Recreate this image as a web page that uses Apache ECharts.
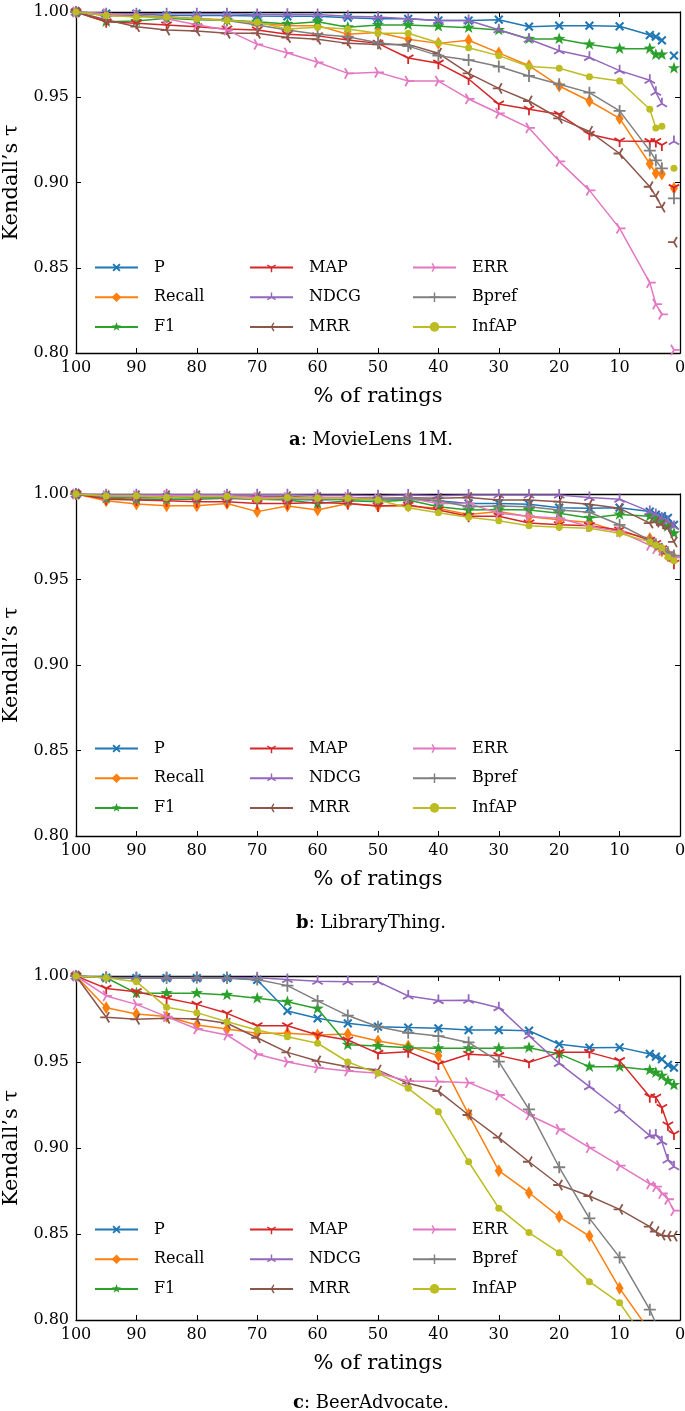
<!DOCTYPE html>
<html>
<head>
<meta charset="utf-8">
<script src="https://cdn.jsdelivr.net/npm/echarts@6/dist/echarts.min.js"></script>
<style>html,body{margin:0;padding:0;background:#fff;}#chart{width:685px;height:1411px;}</style>
</head>
<body>
<div id="chart"></div>
<script>
// ---------- data ----------
const xPct = [100,95,90,85,80,75,70,65,60,55,50,45,40,35,30,25,20,15,10,5,4,3,2,1];
const metricNames = ['P','Recall','F1','MAP','NDCG','MRR','ERR','Bpref','InfAP'];
const panelLetters = ['a','b','c'];
const panelNames = ['MovieLens 1M.','LibraryThing.','BeerAdvocate.'];
const yTickMin = 0.80, yTickMax = 1.00, yTickStep = 0.05;
const xTickMin = 0, xTickMax = 100, xTickStep = 10;

// (a) MovieLens 1M
const a_P      = [1.000,0.999,0.999,0.998,0.998,0.998,0.9977,0.9975,0.9975,0.9967,0.996,0.996,0.995,0.995,0.9955,0.9914,0.992,0.992,0.9916,0.9865,0.9855,0.9834,null,0.9744];
const a_Recall = [1.000,0.998,0.998,0.997,0.996,0.9955,0.9934,0.992,0.992,0.987,0.988,0.984,0.9816,0.9834,0.976,0.9685,0.9566,0.9478,0.9376,0.911,0.9054,0.905,null,0.8966];
const a_F1     = [1.000,0.9943,0.9947,0.9963,0.9955,0.9951,0.9943,0.993,0.9943,0.991,0.9924,0.9924,0.9916,0.9908,0.9894,0.9842,0.9842,0.981,0.9785,0.9785,0.975,0.975,null,0.967];
const a_MAP    = [1.000,0.9943,0.9934,0.9924,0.9914,0.990,0.9894,0.987,0.986,0.9836,0.9816,0.973,0.970,0.9607,0.946,0.943,0.940,0.9283,0.9243,0.924,0.924,0.922,null,0.897];
const a_NDCG   = [1.000,0.999,0.999,0.999,0.999,0.999,0.9985,0.9987,0.9985,0.9975,0.997,0.996,0.995,0.995,0.9896,0.984,0.9773,0.9734,0.9656,0.960,0.9529,0.9462,null,0.924];
const a_MRR    = [1.000,0.9955,0.9914,0.9894,0.9889,0.9875,0.9875,0.985,0.984,0.9816,0.981,0.981,0.9758,0.964,0.9552,0.9478,0.9376,0.930,0.917,0.8975,0.892,0.8855,null,0.865];
const a_ERR    = [1.000,0.999,0.998,0.996,0.9925,0.9894,0.981,0.976,0.9705,0.964,0.9646,0.9595,0.9595,0.949,0.9406,0.932,0.9124,0.8954,0.8731,0.8413,0.8287,0.8227,null,0.8018];
const a_Bpref  = [1.000,0.998,0.9976,0.997,0.996,0.995,0.9924,0.9894,0.987,0.9855,0.982,0.980,0.9744,0.9718,0.968,0.9625,0.9576,0.9527,0.942,0.9187,0.913,0.9083,null,0.8907];
const a_InfAP  = [1.000,0.998,0.997,0.997,0.996,0.995,0.994,0.990,0.991,0.990,0.9875,0.9875,0.982,0.979,0.9744,0.968,0.967,0.962,0.9595,0.943,0.932,0.933,null,0.9083];

// (b) LibraryThing
const b_P      = [1.000,0.9983,0.998,0.998,0.998,0.998,0.997,0.997,0.9965,0.997,0.9965,0.997,0.996,0.9945,0.9945,0.994,0.992,0.9916,0.992,0.9897,0.988,0.987,0.986,0.982];
const b_Recall = [1.000,0.9961,0.9942,0.9932,0.9932,0.9945,0.9897,0.993,0.9906,0.9945,0.993,0.993,0.9916,0.988,0.9897,0.9867,0.985,0.9834,0.978,0.974,0.970,0.9667,0.965,0.963];
const b_F1     = [1.000,0.9975,0.997,0.997,0.997,0.9975,0.997,0.9965,0.9945,0.996,0.9955,0.9965,0.9926,0.9906,0.991,0.9906,0.9887,0.986,0.988,0.987,0.9858,0.984,0.981,0.977];
const b_MAP    = [1.000,0.997,0.9965,0.996,0.9955,0.9955,0.9945,0.9945,0.995,0.9945,0.993,0.9935,0.9906,0.987,0.987,0.983,0.982,0.9815,0.979,0.973,0.971,0.968,0.964,0.9595];
const b_NDCG   = [1.000,0.9995,0.9995,0.9995,0.9995,0.9995,0.9995,0.9995,0.9993,0.9993,0.999,0.9994,0.999,0.9994,0.9994,0.9994,0.9994,0.998,0.997,0.9897,0.988,0.986,0.984,0.981];
const b_MRR    = [1.000,0.999,0.999,0.999,0.999,0.9988,0.9985,0.9985,0.998,0.998,0.9975,0.9978,0.9975,0.998,0.9965,0.9965,0.9955,0.994,0.9916,0.983,0.9835,0.982,0.980,0.972];
const b_ERR    = [1.000,0.999,0.999,0.999,0.999,0.999,0.998,0.998,0.998,0.998,0.997,0.9975,0.9945,0.9945,0.9887,0.987,0.9858,0.981,0.978,0.970,0.968,0.967,0.965,0.963];
const b_Bpref  = [1.000,0.9985,0.998,0.998,0.998,0.9975,0.997,0.997,0.997,0.997,0.997,0.9975,0.996,0.9926,0.993,0.9926,0.9906,0.9893,0.982,0.973,0.9706,0.968,0.966,0.964];
const b_InfAP  = [1.000,0.9988,0.999,0.998,0.9985,0.9985,0.997,0.998,0.9975,0.9975,0.9965,0.992,0.989,0.9864,0.9844,0.9815,0.9805,0.980,0.977,0.972,0.970,0.9686,0.963,0.961];

// (c) BeerAdvocate
const c_P      = [1.000,0.999,0.9988,0.9988,0.9988,0.9988,0.9977,0.9797,0.9754,0.9725,0.9705,0.970,0.9696,0.9686,0.9686,0.9682,0.9603,0.9583,0.9585,0.9547,0.9531,0.9516,0.9483,0.9467];
const c_Recall = [1.000,0.9816,0.9779,0.9764,0.9715,0.9692,0.9667,0.9667,0.9657,0.9663,0.9622,0.9593,0.9537,0.9196,0.8868,0.874,0.860,0.8488,0.8184,0.7935,0.788,0.783,0.778,0.773];
const c_F1     = [1.000,0.999,0.990,0.990,0.990,0.989,0.987,0.985,0.981,0.960,0.9593,0.9583,0.958,0.958,0.958,0.9583,0.9547,0.9473,0.9473,0.9453,0.9438,0.942,0.939,0.9366];
const c_MAP    = [1.000,0.9928,0.9909,0.987,0.9835,0.9783,0.9711,0.9711,0.9657,0.9628,0.955,0.956,0.9488,0.9545,0.9537,0.9498,0.9556,0.9556,0.9508,0.9298,0.9295,0.9236,0.9134,0.9081];
const c_NDCG   = [1.000,0.9992,0.9992,0.9992,0.9992,0.9992,0.999,0.998,0.997,0.9967,0.9967,0.9884,0.9857,0.9859,0.9816,0.9653,0.9492,0.9357,0.9221,0.9072,0.9076,0.9037,0.893,0.8891];
const c_MRR    = [1.000,0.976,0.9748,0.9754,0.975,0.9725,0.9641,0.9556,0.9506,0.9473,0.9453,0.9376,0.9331,0.9192,0.906,0.892,0.8785,0.8721,0.8643,0.8543,0.8514,0.8494,0.8488,0.8488];
const c_ERR    = [1.000,0.9884,0.9835,0.9764,0.9692,0.9657,0.9545,0.950,0.9467,0.9448,0.9434,0.939,0.9386,0.938,0.9308,0.9192,0.9109,0.9002,0.8897,0.8791,0.8775,0.8736,0.8702,0.8636];
const c_Bpref  = [1.000,0.9992,0.9988,0.9988,0.999,0.9988,0.998,0.9944,0.9855,0.977,0.9705,0.967,0.9651,0.9614,0.9502,0.9225,0.8888,0.8591,0.8364,0.806,0.798,0.791,0.784,0.777];
const c_InfAP  = [1.000,0.999,0.9967,0.9818,0.9787,0.9734,0.9686,0.9647,0.9609,0.950,0.9434,0.9347,0.9211,0.892,0.865,0.8508,0.8391,0.8223,0.810,0.785,0.780,0.774,0.768,0.762];

const panelData = [
  [a_P,a_Recall,a_F1,a_MAP,a_NDCG,a_MRR,a_ERR,a_Bpref,a_InfAP],
  [b_P,b_Recall,b_F1,b_MAP,b_NDCG,b_MRR,b_ERR,b_Bpref,b_InfAP],
  [c_P,c_Recall,c_F1,c_MAP,c_NDCG,c_MRR,c_ERR,c_Bpref,c_InfAP]
];

// ---------- styling ----------
const COLORS = ['#1f77b4','#ff7f0e','#2ca02c','#d62728','#9467bd','#8c564b','#e377c2','#7f7f7f','#bcbd22'];
const FONT = 'DejaVu Serif';
const BOX = 'M0,0L0.01,0L0,0.01Z M20,20L19.99,20L20,19.99Z ';
function armsPath(angles, w) {
  let d = BOX;
  for (const a of angles) {
    const r = a * Math.PI / 180, dx = Math.cos(r), dy = -Math.sin(r), px = -dy, py = dx;
    const pts = [[10+px*w,10+py*w],[10+dx*10+px*w,10+dy*10+py*w],[10+dx*10-px*w,10+dy*10-py*w],[10-px*w,10-py*w]];
    d += 'M' + pts.map(p => p[0].toFixed(2)+','+p[1].toFixed(2)).join('L') + 'Z ';
  }
  return 'path://' + d;
}
function starPath() {
  let pts = [];
  for (let k = 0; k < 10; k++) {
    const ang = (90 + 36*k) * Math.PI/180, rad = (k % 2) ? 4.0 : 10;
    pts.push((10+rad*Math.cos(ang)).toFixed(2)+','+(10-rad*Math.sin(ang)).toFixed(2));
  }
  return 'path://' + BOX + 'M' + pts.join('L') + 'Z';
}
const SYMBOLS = [
  armsPath([45,135,225,315], 1.9),  // x
  'diamond',
  starPath(),
  armsPath([270,30,150], 1.5),      // tri_down
  armsPath([90,210,330], 1.5),      // tri_up
  armsPath([180,60,300], 1.5),      // tri_left
  armsPath([0,120,240], 1.5),       // tri_right
  armsPath([0,90,180,270], 1.5),    // +
  'circle'
];
const SIZES = [11,[8,13],13,12,12,12,12,12,7];

const panels = [{top:12,h:341,cap:437,leg:259.5},{top:494,h:342,cap:920,leg:740.5},{top:976,h:344,cap:1400,leg:1221.5}];
const GL = 76, GW = 604;

const grid = [], xAxis = [], yAxis = [], series = [], legend = [], title = [];
panels.forEach((p, pi) => {
  grid.push({left: GL, top: p.top, width: GW, height: p.h, containLabel:false, outerBoundsMode:'none'});
  const tickStyle = {show:true, inside:true, length:5, lineStyle:{color:'#000', width:1}};
  xAxis.push({type:'value', gridIndex:pi, min:xTickMin, max:xTickMax, interval:xTickStep, inverse:true,
    axisLine:{show:true, onZero:false, lineStyle:{color:'#000', width:1.3}},
    axisTick:tickStyle, splitLine:{show:false},
    axisLabel:{color:'#000', fontFamily:FONT, fontSize:16, margin:7, formatter:v=>String(v)},
    name:'% of ratings', nameLocation:'middle', nameGap:33,
    nameTextStyle:{color:'#000', fontFamily:FONT, fontSize:21}});
  yAxis.push({type:'value', gridIndex:pi, min:yTickMin, max:yTickMax, interval:yTickStep,
    axisLine:{show:true, onZero:false, lineStyle:{color:'#000', width:1.3}},
    axisTick:tickStyle, splitLine:{show:false},
    axisLabel:{color:'#000', fontFamily:FONT, fontSize:16, margin:7, formatter:v=>v.toFixed(2)},
    name:'Kendall\u2019s \u03c4', nameLocation:'middle', nameGap:52, nameRotate:90,
    nameTextStyle:{color:'#000', fontFamily:FONT, fontSize:21}});
  title.push({text:'{b|' + panelLetters[pi] + '}: ' + panelNames[pi], left:366, top:p.cap-11, textAlign:'center',
    textStyle:{color:'#000', fontFamily:FONT, fontSize:18, fontWeight:'normal',
      rich:{b:{fontWeight:'bold', fontFamily:FONT, fontSize:18, color:'#000'}}}});
  metricNames.forEach((m, mi) => {
    const vals = panelData[pi][mi];
    series.push({type:'line', name:m, xAxisIndex:pi, yAxisIndex:pi,
      data: xPct.map((x, i) => [x, vals[i] == null ? '-' : vals[i]]),
      symbol:SYMBOLS[mi], symbolSize:SIZES[mi], symbolKeepAspect:true, showSymbol:true,
      lineStyle:{color:COLORS[mi], width:1.5}, itemStyle:{color:COLORS[mi], borderWidth:0},
      emphasis:{disabled:true}, animation:false, clip:true, z:2+mi});
  });
  const cols = [94, 249, 412];
  cols.forEach((cx, ci) => {
    legend.push({left:cx, top:p.leg, orient:'vertical', padding:0, itemWidth:43, itemHeight:12, itemGap:13.7,
      data: metricNames.slice(ci*3, ci*3+3), selectedMode:false,
      textStyle:{color:'#000', fontFamily:FONT, fontSize:16, padding:[0,0,0,11]}});
  });
});
// mirrored top / right axes (ticks only)
panels.forEach((p, pi) => {
  xAxis.push({type:'value', gridIndex:pi, position:'top', min:xTickMin, max:xTickMax, interval:xTickStep, inverse:true,
    axisLine:{show:true, onZero:false, lineStyle:{color:'#000', width:1.3}},
    axisTick:{show:true, inside:true, length:5, lineStyle:{color:'#000', width:1}},
    axisLabel:{show:false}, splitLine:{show:false}});
  yAxis.push({type:'value', gridIndex:pi, position:'right', min:yTickMin, max:yTickMax, interval:yTickStep,
    axisLine:{show:true, onZero:false, lineStyle:{color:'#000', width:1.3}},
    axisTick:{show:true, inside:true, length:5, lineStyle:{color:'#000', width:1}},
    axisLabel:{show:false}, splitLine:{show:false}});
});

const chart = echarts.init(document.getElementById('chart'), null, {renderer:'canvas'});
chart.setOption({animation:false, backgroundColor:'#fff', grid, xAxis, yAxis, series, legend, title, tooltip:{show:false}});
</script>
</body>
</html>
